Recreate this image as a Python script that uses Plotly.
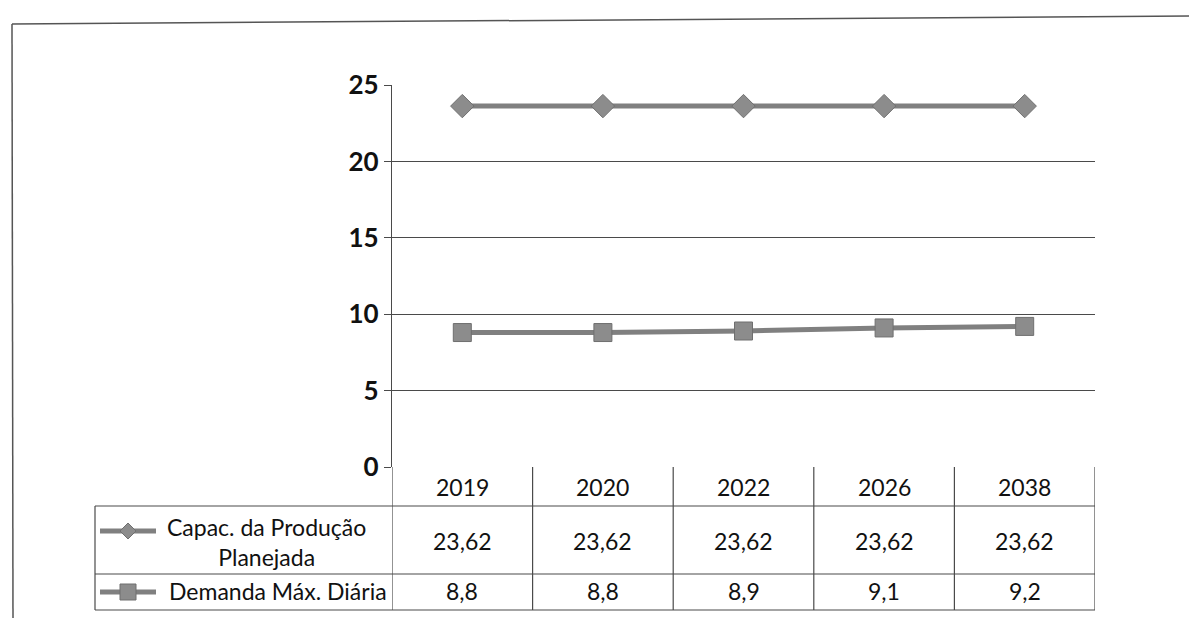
import plotly.graph_objects as go

years = ["2019", "2020", "2022", "2026", "2038"]
capac = [23.62, 23.62, 23.62, 23.62, 23.62]
demanda = [8.8, 8.8, 8.9, 9.1, 9.2]
capac_labels = ["23,62", "23,62", "23,62", "23,62", "23,62"]
demanda_labels = ["8,8", "8,8", "8,9", "9,1", "9,2"]
series_names = ["Capac. da Produção<br>Planejada", "Demanda Máx. Diária"]
y_ticks = [0, 5, 10, 15, 20, 25]

W, H = 1189, 618
def px(x):
    return x / W
def py(y):
    return 1 - y / H

FONT = "Lato, Open Sans, sans-serif"
LINE_C = "#808080"
MARK_C = "#8c8c8c"
GRID_C = "#4a4a4a"
TXT_C = "#111111"

fig = go.Figure()
fig.add_trace(go.Scatter(
    x=list(range(len(years))), y=capac, mode="lines+markers", name="Capac",
    line=dict(color=LINE_C, width=5),
    marker=dict(symbol="diamond", size=18, color=MARK_C, line=dict(color="#6f6f6f", width=1)),
))
fig.add_trace(go.Scatter(
    x=list(range(len(years))), y=demanda, mode="lines+markers", name="Demanda",
    line=dict(color=LINE_C, width=5),
    marker=dict(symbol="square", size=18, color=MARK_C, line=dict(color="#6f6f6f", width=1)),
))

x0, x1 = 392, 1095
y_top, y_zero = 85, 467
row_h_bot = 506
row1_bot = 574
row2_bot = 610
leg_left = 95

shapes = []
# outer frame
shapes.append(dict(type="line", xref="paper", yref="paper", x0=px(12), x1=1, y0=py(24), y1=py(16),
                   line=dict(color="#555", width=1.5)))
shapes.append(dict(type="line", xref="paper", yref="paper", x0=px(12), x1=px(13), y0=py(24), y1=0,
                   line=dict(color="#555", width=1.5)))
# table horizontal lines
for yy in [row_h_bot, row1_bot, row2_bot]:
    shapes.append(dict(type="line", xref="paper", yref="paper", x0=px(leg_left), x1=px(x1), y0=py(yy), y1=py(yy),
                       line=dict(color=GRID_C, width=1.2)))
# table vertical lines (category boundaries)
for i in range(len(years) + 1):
    shapes.append(dict(type="line", xref="x", yref="paper", x0=i - 0.5, x1=i - 0.5,
                       y0=py(y_zero), y1=py(row2_bot), line=dict(color=GRID_C, width=1.2)))
# legend column left edge
shapes.append(dict(type="line", xref="paper", yref="paper", x0=px(leg_left), x1=px(leg_left),
                   y0=py(row_h_bot), y1=py(row2_bot), line=dict(color=GRID_C, width=1.2)))
# legend keys
cy = 531
cx = 128
shapes.append(dict(type="line", xref="paper", yref="paper", x0=px(100), x1=px(156), y0=py(cy), y1=py(cy),
                   line=dict(color=LINE_C, width=5)))
d = 8
shapes.append(dict(type="path", xref="paper", yref="paper",
                   path=f"M {px(cx-d)},{py(cy)} L {px(cx)},{py(cy-d)} L {px(cx+d)},{py(cy)} L {px(cx)},{py(cy+d)} Z",
                   fillcolor=MARK_C, line=dict(color="#6f6f6f", width=1)))
cy2 = 592
shapes.append(dict(type="line", xref="paper", yref="paper", x0=px(100), x1=px(156), y0=py(cy2), y1=py(cy2),
                   line=dict(color=LINE_C, width=5)))
shapes.append(dict(type="rect", xref="paper", yref="paper", x0=px(cx-8), x1=px(cx+8), y0=py(cy2+8), y1=py(cy2-8),
                   fillcolor=MARK_C, line=dict(color="#6f6f6f", width=1)))

annotations = []
tf = dict(family=FONT, size=23, color=TXT_C)
for i, yv in enumerate(years):
    annotations.append(dict(x=i, xref="x", y=py(487), yref="paper", yanchor="middle",
                            text=yv, showarrow=False, font=tf))
    annotations.append(dict(x=i, xref="x", y=py(541), yref="paper", yanchor="middle",
                            text=capac_labels[i], showarrow=False, font=tf))
    annotations.append(dict(x=i, xref="x", y=py(591), yref="paper", yanchor="middle",
                            text=demanda_labels[i], showarrow=False, font=tf))
annotations.append(dict(x=px(266), xref="paper", xanchor="center", y=py(542), yref="paper", yanchor="middle",
                        text=series_names[0], showarrow=False, align="center",
                        font=tf))
annotations.append(dict(x=px(389), xref="paper", xanchor="right", y=py(591), yref="paper", yanchor="middle",
                        text=series_names[1], showarrow=False,
                        font=tf))

fig.update_layout(
    width=W, height=H,
    margin=dict(l=0, r=0, t=0, b=0, pad=0, autoexpand=False),
    paper_bgcolor="white", plot_bgcolor="white",
    showlegend=False,
    shapes=shapes, annotations=annotations,
    xaxis=dict(domain=[px(x0), px(x1)], range=[-0.5, len(years) - 0.5],
               showticklabels=False, showgrid=False, zeroline=False, showline=False, ticks=""),
    yaxis=dict(domain=[py(y_zero), py(y_top)], range=[0, 25], tickvals=y_ticks,
               showgrid=True, gridcolor=GRID_C, gridwidth=1.2, zeroline=False,
               showline=True, linecolor=GRID_C, linewidth=1.2,
               ticks="outside", ticklen=7, tickcolor=GRID_C,
               tickfont=dict(family=FONT, size=26, color=TXT_C, weight="bold")),
)

fig.write_html("out.html")
